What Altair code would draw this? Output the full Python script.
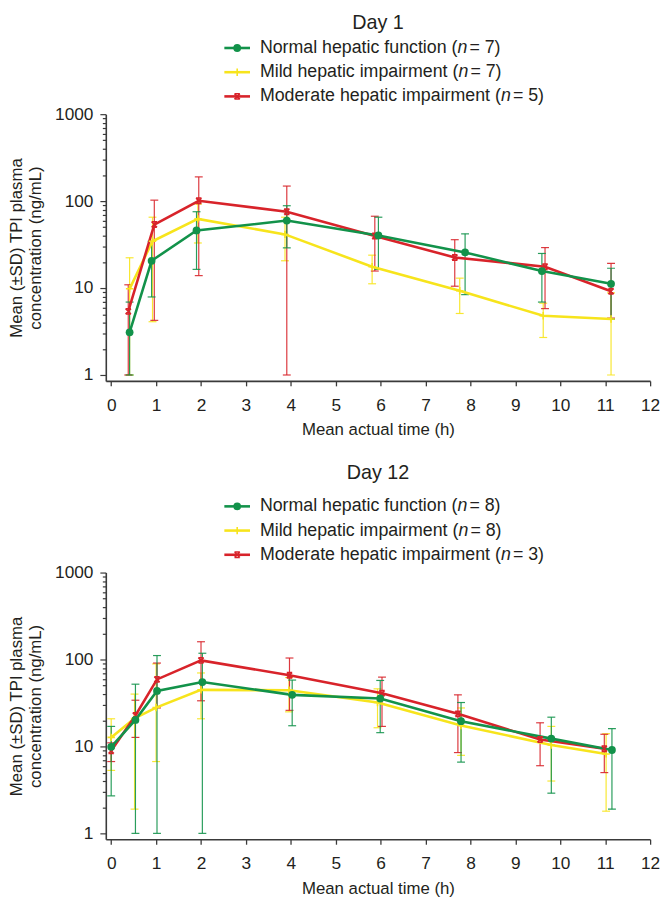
import altair as alt
import pandas as pd

FONT = "Liberation Sans"
TXT = "#231f20"
AX = "#3a3a3a"

group_keys = ["Normal", "Mild", "Moderate"]
group_colors = ["#12924a", "#f7e41c", "#d8232a"]
legend_names = ["Normal hepatic function", "Mild hepatic impairment", "Moderate hepatic impairment"]
day1_n = [7, 7, 5]
day12_n = [8, 8, 3]

# ---------------- Day 1 ----------------
d1_normal_t = [0.41, 0.90, 1.90, 3.91, 5.95, 7.88, 9.59, 11.13]
d1_normal_mean = [3.1, 20.6, 46.0, 59.7, 40.3, 25.7, 15.7, 11.2]
d1_normal_lo = [1.0, 7.9, 16.4, 29.0, 16.4, 8.4, 6.9, 4.4]
d1_normal_hi = [6.9, 34.5, 75.5, 88.5, 65.3, 42.0, 25.0, 16.9]

d1_mild_t = [0.41, 0.92, 1.93, 3.87, 5.81, 7.76, 9.62, 11.13]
d1_mild_mean = [9.8, 34.5, 62.4, 41.4, 17.6, 9.3, 4.8, 4.4]
d1_mild_lo = [1.0, 4.1, 33.0, 20.6, 11.2, 5.1, 2.7, 1.0]
d1_mild_hi = [22.3, 65.3, 92.5, 65.3, 23.9, 13.0, 6.7, 8.8]

d1_mod_t = [0.38, 0.96, 1.95, 3.91, 5.87, 7.65, 9.66, 11.13]
d1_mod_mean = [5.4, 53.8, 100.8, 75.5, 39.7, 22.5, 17.6, 9.2]
d1_mod_lo = [1.0, 4.25, 13.9, 1.0, 15.7, 10.5, 5.8, 4.5]
d1_mod_hi = [10.9, 102.6, 190.0, 149.0, 67.0, 36.0, 29.2, 19.2]

# ---------------- Day 12 ----------------
d12_normal_t = [0.0, 0.54, 1.02, 2.03, 4.03, 5.99, 7.79, 9.80, 11.15]
d12_normal_mean = [9.9, 20.2, 43.5, 55.0, 39.2, 35.6, 19.5, 12.3, 9.1]
d12_normal_lo = [2.7, 1.0, 1.0, 1.0, 17.3, 14.4, 6.6, 2.9, 1.9]
d12_normal_hi = [17.0, 52.0, 111.0, 118.0, 58.0, 57.4, 32.0, 21.7, 16.0]

d12_mild_t = [0.0, 0.52, 1.0, 2.0, 3.96, 5.93, 7.79, 9.80, 11.02]
d12_mild_mean = [12.7, 21.0, 28.0, 44.7, 44.3, 32.0, 17.4, 10.4, 8.2]
d12_mild_lo = [5.3, 1.9, 6.7, 20.8, 25.0, 16.4, 7.9, 4.0, 1.8]
d12_mild_hi = [20.8, 40.0, 89.0, 70.0, 62.0, 46.0, 27.7, 17.0, 14.0]

d12_mod_t = [0.0, 0.54, 1.02, 2.0, 3.97, 6.03, 7.72, 9.55, 10.98]
d12_mod_mean = [8.9, 22.7, 59.0, 97.7, 66.0, 41.0, 23.7, 12.0, 9.4]
d12_mod_lo = [6.7, 12.7, 27.7, 33.5, 26.0, 17.0, 8.5, 6.0, 5.0]
d12_mod_hi = [11.0, 34.0, 91.0, 160.0, 104.0, 62.7, 39.2, 18.7, 13.8]

X_TICKS = list(range(13))
Y_TICKS = [1, 2, 3, 4, 5, 6, 7, 8, 9, 10, 20, 30, 40, 50, 60, 70, 80, 90,
           100, 200, 300, 400, 500, 600, 700, 800, 900, 1000]


def frame(series):
    rows = []
    for key, (t, m, lo, hi) in zip(group_keys, series):
        for a, b, c, d in zip(t, m, lo, hi):
            rows.append({"group": key, "t": a, "mean": b, "lo": c, "hi": d})
    return pd.DataFrame(rows)


df1 = frame([(d1_normal_t, d1_normal_mean, d1_normal_lo, d1_normal_hi),
             (d1_mild_t, d1_mild_mean, d1_mild_lo, d1_mild_hi),
             (d1_mod_t, d1_mod_mean, d1_mod_lo, d1_mod_hi)])
df12 = frame([(d12_normal_t, d12_normal_mean, d12_normal_lo, d12_normal_hi),
              (d12_mild_t, d12_mild_mean, d12_mild_lo, d12_mild_hi),
              (d12_mod_t, d12_mod_mean, d12_mod_lo, d12_mod_hi)])

COLOR = dict(zip(group_keys, group_colors))
PLOT_W, PLOT_H = 551, 270

xscale = alt.Scale(domain=[-0.12, 12], nice=False, zero=False)
yscale = alt.Scale(type="log", domain=[0.855, 1000], nice=False)

major_test = "indexof([1,10,100,1000], datum.value) >= 0"

x_axis = alt.Axis(values=X_TICKS, title="Mean actual time (h)", grid=False,
                  tickSize=5, labelPadding=11, labelFontSize=17.5, titleFontSize=17,
                  titlePadding=8, labelFont=FONT, titleFont=FONT, labelColor=TXT,
                  titleColor=TXT, titleFontWeight="normal", domainColor=AX,
                  tickColor=AX, domainWidth=1.6, tickWidth=1.3,
                  labelOverlap=False, labelFlush=False)

y_axis = alt.Axis(values=Y_TICKS, format="d",
                  labelExpr="indexof([1,10,100,1000], datum.value) >= 0 ? datum.label : ''",
                  title=["Mean (±SD) TPI plasma", "concentration (ng/mL)"],
                  grid=False,
                  tickSize={"condition": {"test": major_test, "value": 6}, "value": 3.5},
                  labelPadding=7, labelFontSize=17.5, titleFontSize=17,
                  titleLineHeight=19, titlePadding=10, labelFont=FONT, titleFont=FONT,
                  labelColor=TXT, titleColor=TXT, titleFontWeight="normal",
                  domainColor=AX, tickColor=AX, domainWidth=1.6, tickWidth=1.2,
                  labelOverlap=False, labelFlush=False)

X = alt.X("t:Q", scale=xscale, axis=x_axis)


def Y(field):
    return alt.Y(field, type="quantitative", scale=yscale, axis=y_axis)


POINT_STYLE = {
    "Normal": dict(shape="circle", filled=True, size=62, opacity=1),
    "Mild": dict(shape="M0,-1L0,1M-1,0L1,0", filled=False, size=56, strokeWidth=1.6, opacity=1),
    "Moderate": dict(shape="M-1,-1L1,1M-1,1L1,-1M-1,-1L1,-1M-1,1L1,1", filled=False,
                     size=30, strokeWidth=1.5, opacity=1),
}
LEGEND_SHAPE = {"Normal": "circle", "Mild": "M0,-1L0,1",
                "Moderate": POINT_STYLE["Moderate"]["shape"]}
DRAW_ORDER = ["Mild", "Moderate", "Normal"]


def plot(df):
    base = alt.Chart(df)
    layers = []
    for g in DRAW_ORDER:
        b = base.transform_filter(alt.datum.group == g)
        c = COLOR[g]
        layers.append(b.mark_rule(color=c, strokeWidth=1.2, opacity=0.9).encode(
            x=X, y=Y("lo"), y2="hi:Q"))
        layers.append(b.mark_tick(color=c, orient="horizontal", size=8, thickness=1.2,
                                  opacity=0.9).encode(x=X, y=Y("hi")))
        layers.append(b.mark_tick(color=c, orient="horizontal", size=8, thickness=1.2,
                                  opacity=0.9).encode(x=X, y=Y("lo")))
    for g in DRAW_ORDER:
        b = base.transform_filter(alt.datum.group == g)
        layers.append(b.mark_line(color=COLOR[g], strokeWidth=2.6).encode(x=X, y=Y("mean")))
    for g in DRAW_ORDER:
        b = base.transform_filter(alt.datum.group == g)
        layers.append(b.mark_point(color=COLOR[g], **POINT_STYLE[g]).encode(x=X, y=Y("mean")))
    return alt.layer(*layers).properties(width=PLOT_W, height=PLOT_H)


# Arial / Liberation Sans advance widths (per 1000 em)
W = {" ": 278, "\u00a0": 278, "(": 333, ")": 333, "=": 584, "N": 722, "M": 833, "a": 556,
     "c": 500, "d": 556, "e": 556, "f": 278, "h": 556, "i": 222, "l": 222, "m": 833,
     "n": 556, "o": 556, "p": 556, "r": 333, "t": 278, "u": 556}
LEG_FS = 18


def tw(s, fs):
    return sum(W.get(ch, 556) for ch in s) * fs / 1000.0


def header(title, ns, height, title_y, row_y0):
    rows = []
    x_text = 156
    for i, (key, name, n) in enumerate(zip(group_keys, legend_names, ns)):
        p1 = name + " ("
        p3 = "\u00a0=\u00a0%d)" % n
        rows.append({"group": key, "y": row_y0 + 24.5 * i,
                     "lx1": 120, "lx2": 146, "mx": 133,
                     "x1": x_text, "x2": x_text + tw(p1, LEG_FS),
                     "x3": x_text + tw(p1, LEG_FS) + tw("n", LEG_FS) + 2,
                     "p1": p1, "p2": "n", "p3": p3})
    ld = pd.DataFrame(rows)
    base = alt.Chart(ld)
    yenc = alt.Y("y:Q", scale=None, axis=None)
    layers = [
        alt.Chart(pd.DataFrame({"title": [title]})).mark_text(
            fontSize=20, font=FONT, color=TXT, align="center", baseline="middle").encode(
            x=alt.value(PLOT_W / 2), y=alt.value(title_y), text="title:N"),
        base.mark_rule(strokeWidth=2.6).encode(
            x=alt.X("lx1:Q", scale=None, axis=None), x2="lx2:Q", y=yenc,
            color=alt.Color("group:N", scale=alt.Scale(domain=group_keys, range=group_colors),
                            legend=None)),
    ]
    for g in group_keys:
        style = {k: v for k, v in POINT_STYLE[g].items() if k != "shape"}
        layers.append(base.transform_filter(alt.datum.group == g).mark_point(
            color=COLOR[g], shape=LEGEND_SHAPE[g], **style).encode(
            x=alt.X("mx:Q", scale=None, axis=None), y=yenc))
    for col, fld, style in (("x1", "p1", "normal"), ("x2", "p2", "italic"), ("x3", "p3", "normal")):
        layers.append(base.mark_text(fontSize=LEG_FS, font=FONT, color=TXT, align="left",
                                     baseline="middle", fontStyle=style).encode(
            x=alt.X(col + ":Q", scale=None, axis=None), y=yenc, text=fld + ":N"))
    return alt.layer(*layers).properties(width=PLOT_W, height=height)


h1 = header("Day 1", day1_n, 92, 10, 35)
p1 = plot(df1)
h2 = header("Day 12", day12_n, 126, 35.5, 69)
p2 = plot(df12)

chart = alt.vconcat(h1, p1, h2, p2, spacing=0).properties(
    padding={"left": 0, "top": 0, "right": 0, "bottom": 0}
).configure_view(stroke=None)

chart.save("out.html", embed_options={"renderer": "svg", "actions": False})
